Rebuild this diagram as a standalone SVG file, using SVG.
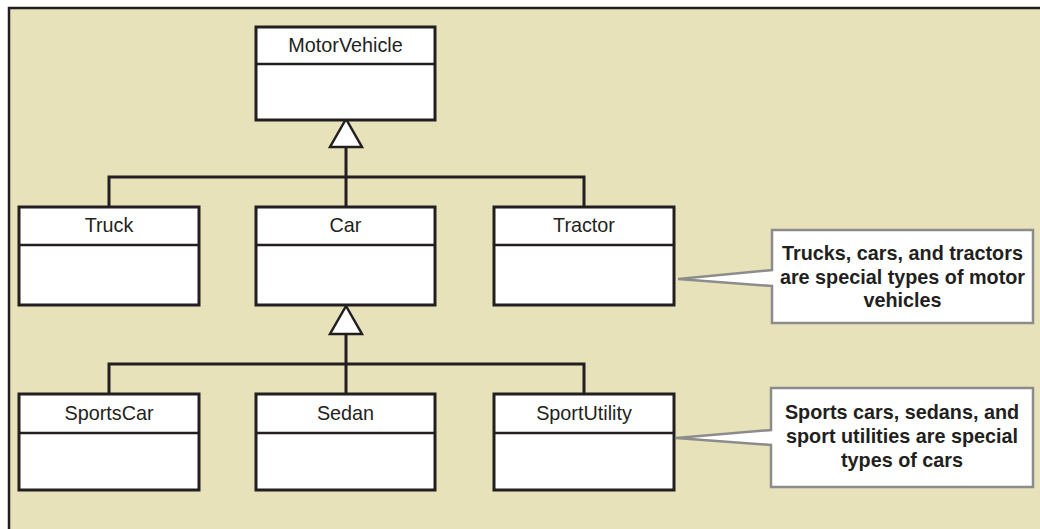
<svg xmlns="http://www.w3.org/2000/svg" width="1040" height="529" viewBox="0 0 1040 529">
  <style>
    .panel { fill: #E8E2BA; stroke: #231F20; stroke-width: 2.5; }
    .cls { fill: #FFFFFF; stroke: #231F20; stroke-width: 3; }
    .div { stroke: #231F20; stroke-width: 2.5; }
    .name { font-family: "Liberation Sans", Arial, sans-serif; font-size: 19.8px; fill: #231F20; text-anchor: middle; }
    .link { fill: none; stroke: #231F20; stroke-width: 3; }
    .head { fill: #FFFFFF; stroke: #231F20; stroke-width: 2.5; stroke-linejoin: miter; }
    .note { fill: #FFFFFF; stroke: #8C8C8C; stroke-width: 2.5; stroke-linejoin: miter; }
    .notetext { font-family: "Liberation Sans", Arial, sans-serif; font-size: 19.8px; font-weight: bold; fill: #231F20; text-anchor: middle; }
  </style>

  <!-- background panel -->
  <rect class="panel" x="9" y="8" width="1040" height="530"/>

  <!-- generalization connectors -->
  <g id="connectors">
    <path class="link" d="M346,147 V207"/>
    <path class="link" d="M109,207 V177 H584 V207"/>
    <polygon class="head" points="346,119 330,147 362,147"/>
    <path class="link" d="M346,334 V394"/>
    <path class="link" d="M109,394 V364 H584 V394"/>
    <polygon class="head" points="346,306 330,334 362,334"/>
  </g>

  <!-- classes -->
  <g id="MotorVehicle">
    <rect class="cls" x="256" y="27" width="179" height="93"/>
    <line class="div" x1="256" y1="64" x2="435" y2="64"/>
    <text class="name" x="345.5" y="52">MotorVehicle</text>
  </g>
  <g id="Truck">
    <rect class="cls" x="19" y="207" width="180" height="98"/>
    <line class="div" x1="19" y1="245" x2="199" y2="245"/>
    <text class="name" x="109" y="232">Truck</text>
  </g>
  <g id="Car">
    <rect class="cls" x="256" y="207" width="179" height="98"/>
    <line class="div" x1="256" y1="245" x2="435" y2="245"/>
    <text class="name" x="345.5" y="232">Car</text>
  </g>
  <g id="Tractor">
    <rect class="cls" x="494" y="207" width="180" height="98"/>
    <line class="div" x1="494" y1="245" x2="674" y2="245"/>
    <text class="name" x="584" y="232">Tractor</text>
  </g>
  <g id="SportsCar">
    <rect class="cls" x="19" y="394" width="180" height="96"/>
    <line class="div" x1="19" y1="433" x2="199" y2="433"/>
    <text class="name" x="109" y="420">SportsCar</text>
  </g>
  <g id="Sedan">
    <rect class="cls" x="256" y="394" width="179" height="96"/>
    <line class="div" x1="256" y1="433" x2="435" y2="433"/>
    <text class="name" x="345.5" y="420">Sedan</text>
  </g>
  <g id="SportUtility">
    <rect class="cls" x="494" y="394" width="180" height="96"/>
    <line class="div" x1="494" y1="433" x2="674" y2="433"/>
    <text class="name" x="584" y="420">SportUtility</text>
  </g>

  <!-- notes -->
  <g id="note-vehicles">
    <path class="note" d="M772,230 H1033 V323 H772 V286 L678,279 L772,270 Z"/>
    <text class="notetext" x="902.5" y="260">Trucks, cars, and tractors</text>
    <text class="notetext" x="902.5" y="284">are special types of motor</text>
    <text class="notetext" x="902.5" y="307">vehicles</text>
  </g>
  <g id="note-cars">
    <path class="note" d="M771,388 H1033 V487 H771 V445 L676,438 L771,430 Z"/>
    <text class="notetext" x="902" y="419">Sports cars, sedans, and</text>
    <text class="notetext" x="902" y="443">sport utilities are special</text>
    <text class="notetext" x="902" y="467">types of cars</text>
  </g>
</svg>
